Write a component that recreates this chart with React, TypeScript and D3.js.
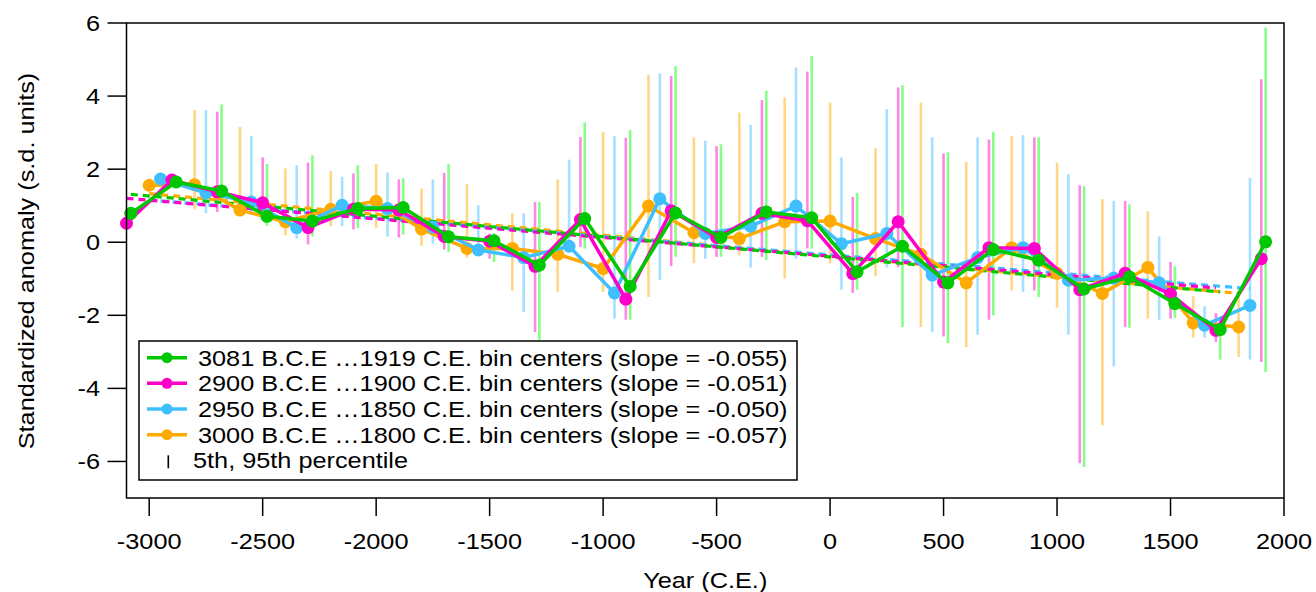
import React from "react";
import * as d3 from "d3";

// ---------- data ----------
const greenYears = [-3081, -2881, -2681, -2481, -2281, -2081, -1881, -1681, -1481, -1281, -1081, -881, -681, -481, -281, -81, 119, 319, 519, 719, 919, 1119, 1319, 1519, 1719, 1919];
const greenVals = [0.79, 1.65, 1.40, 0.71, 0.58, 0.92, 0.95, 0.15, 0.04, -0.63, 0.65, -1.21, 0.80, 0.13, 0.83, 0.67, -0.81, -0.11, -1.11, -0.20, -0.49, -1.28, -0.95, -1.68, -2.39, 0.01];
const greenLo = [null, null, 1.2, 0.45, 0.16, 0.38, 0.21, -0.27, -0.54, -2.67, -0.17, -2.12, -0.40, -0.40, -0.49, -0.17, -1.30, -2.32, -2.76, -2.00, -1.50, -6.15, -2.34, -2.07, -3.21, -3.55];
const greenHi = [null, null, 3.77, 2.14, 2.38, 2.11, 1.75, 2.14, 0.25, 1.10, 3.28, 3.07, 4.82, 2.68, 4.15, 5.10, 1.35, 4.30, 2.46, 3.02, 2.87, 1.53, 1.04, -0.66, -2.2, 5.88];

const pinkYears = [-3100, -2900, -2700, -2500, -2300, -2100, -1900, -1700, -1500, -1300, -1100, -900, -700, -500, -300, -100, 100, 300, 500, 700, 900, 1100, 1300, 1500, 1700, 1900];
const pinkVals = [0.52, 1.70, 1.38, 1.08, 0.40, 0.90, 0.88, 0.16, 0.03, -0.66, 0.62, -1.56, 0.86, 0.13, 0.79, 0.59, -0.86, 0.56, -1.09, -0.15, -0.17, -1.30, -0.85, -1.42, -2.41, -0.45];
const pinkLo = [null, null, 0.83, 0.9, -0.06, 0.35, 0.13, -0.20, -0.45, -2.46, -0.13, -2.12, -0.65, -0.40, -0.40, -0.17, -1.39, -0.68, -2.58, -2.12, -1.32, -6.05, -2.32, -2.09, -2.73, -3.28];
const pinkHi = [null, null, 3.57, 2.32, 2.18, 1.88, 1.72, 1.90, 0.24, 1.10, 2.88, 2.86, 4.55, 2.63, 3.89, 4.67, 1.24, 4.24, 2.43, 2.81, 2.87, 1.56, 1.13, -0.54, -1.94, 4.46];

const blueYears = [-2950, -2750, -2550, -2350, -2150, -1950, -1750, -1550, -1350, -1150, -950, -750, -550, -350, -150, 50, 250, 450, 650, 850, 1050, 1250, 1450, 1650, 1850];
const blueVals = [1.73, 1.35, 1.10, 0.40, 1.01, 0.92, 0.41, -0.21, -0.42, -0.11, -1.39, 1.19, 0.24, 0.44, 0.99, -0.04, 0.24, -0.90, -0.42, -0.15, -1.04, -0.98, -1.11, -2.27, -1.73];
const blueLo = [null, 0.79, 0.75, 0.10, 0.44, 0.15, -0.04, -0.36, -1.91, -0.25, -2.09, -1.04, -0.45, -0.69, -0.45, -1.30, -0.69, -2.46, -2.53, -1.36, -2.53, -3.40, -2.12, -2.61, -3.21];
const blueHi = [null, 3.62, 2.90, 2.11, 1.79, 1.91, 1.72, 1.01, 0.79, 2.26, 2.90, 4.62, 2.78, 3.21, 4.78, 2.32, 3.64, 2.87, 2.87, 2.93, 1.86, 1.13, 0.16, -1.75, 1.76];

const orangeYears = [-3000, -2800, -2600, -2400, -2200, -2000, -1800, -1600, -1400, -1200, -1000, -800, -600, -400, -200, 0, 200, 400, 600, 800, 1000, 1200, 1400, 1600, 1800];
const orangeVals = [1.56, 1.57, 0.88, 0.56, 0.90, 1.12, 0.36, -0.17, -0.17, -0.33, -0.72, 0.99, 0.26, 0.10, 0.56, 0.58, 0.10, -0.33, -1.11, -0.15, -0.85, -1.40, -0.69, -2.21, -2.32];
const orangeLo = [null, 0.90, 0.75, 0.19, 0.44, 0.40, -0.10, -0.42, -1.32, -1.36, -1.36, -1.50, -0.57, -0.36, -0.99, -0.58, -0.93, -2.32, -2.87, -1.32, -1.79, -5.01, -2.09, -2.61, -3.14];
const orangeHi = [null, 3.62, 3.16, 2.02, 1.95, 2.14, 1.47, 1.59, 0.79, 1.72, 3.02, 4.58, 2.87, 3.55, 3.96, 3.82, 2.57, 3.82, 2.20, 2.90, 2.18, 1.18, 0.85, -1.48, -1.45];

// trend lines [startYear, startValue, endYear, endValue]
const greenTrend = [-3081, 1.31, 1719, -1.36];
const pinkTrend = [-3100, 1.20, 1700, -1.25];
const blueTrend = [-2950, 1.13, 1850, -1.27];
const orangeTrend = [-3000, 1.33, 1800, -1.40];

const legendLabels = [
  "3081 B.C.E …1919 C.E. bin centers (slope = -0.055)",
  "2900 B.C.E …1900 C.E. bin centers (slope = -0.051)",
  "2950 B.C.E …1850 C.E. bin centers (slope = -0.050)",
  "3000 B.C.E …1800 C.E. bin centers (slope = -0.057)",
];
const percentileLabel = "5th, 95th percentile";
const xTicks = [-3000, -2500, -2000, -1500, -1000, -500, 0, 500, 1000, 1500, 2000];
const yTicks = [-6, -4, -2, 0, 2, 4, 6];
const xTitle = "Year (C.E.)";
const yTitle = "Standardized anomaly (s.d. units)";

// ---------- styling ----------
const COLORS = { green: "#00c800", pink: "#ff00cc", blue: "#40bfff", orange: "#ffaa00" };
const BAR_COLORS = { green: "#00ff00", pink: "#ff00cc", blue: "#40bfff", orange: "#ffaa00" };
const FONT = "'Liberation Sans', Arial, Helvetica, sans-serif";
const SX = 1.15;

const series = [
  { key: "orange", years: orangeYears, vals: orangeVals, lo: orangeLo, hi: orangeHi, trend: orangeTrend },
  { key: "blue", years: blueYears, vals: blueVals, lo: blueLo, hi: blueHi, trend: blueTrend },
  { key: "pink", years: pinkYears, vals: pinkVals, lo: pinkLo, hi: pinkHi, trend: pinkTrend },
  { key: "green", years: greenYears, vals: greenVals, lo: greenLo, hi: greenHi, trend: greenTrend },
];
const legendOrder = ["green", "pink", "blue", "orange"];

function T({ x, y, anchor = "start", rotate = 0, size = 22, children }: any) {
  return (
    <text
      transform={`translate(${x},${y}) rotate(${rotate}) scale(${SX},1)`}
      textAnchor={anchor}
      fontSize={size}
      fontFamily={FONT}
      fill="#000"
    >
      {children}
    </text>
  );
}

export default function App() {
  const W = 1316, H = 592;
  const x = d3.scaleLinear().domain([-3100, 2000]).range([126.5, 1284]);
  const y = d3.scaleLinear().domain([-7, 6]).range([498, 23]);
  const line = d3.line<[number, number]>().x((d) => x(d[0])).y((d) => y(d[1]));

  const left = x(-3100), right = x(2000), top = y(6), bottom = y(-7);

  const lgX = 139, lgY = 341, lgW = 658, lgH = 139;
  const rowY = (i: number) => 357.7 + i * 25.65;

  return (
    <svg width={W} height={H} style={{ position: "absolute", left: 0, top: 0, background: "#fff" }}>
      <rect x={0} y={0} width={W} height={H} fill="#fff" />
      {/* error bars */}
      <g>
        {series.map((s) =>
          s.years.map((yr, i) =>
            s.lo[i] == null ? null : (
              <line
                key={s.key + "e" + i}
                x1={x(yr)}
                x2={x(yr)}
                y1={y(s.lo[i] as number)}
                y2={y(s.hi[i] as number)}
                stroke={(BAR_COLORS as any)[s.key]}
                strokeOpacity={0.48}
                strokeWidth={2.6}
              />
            )
          )
        )}
      </g>
      {/* trend lines */}
      <g>
        {series.map((s) => (
          <path
            key={s.key + "t"}
            d={line([[s.trend[0], s.trend[1]], [s.trend[2], s.trend[3]]]) || ""}
            stroke={(COLORS as any)[s.key]}
            strokeWidth={3.2}
            strokeDasharray="7 5"
            fill="none"
          />
        ))}
      </g>
      {/* series */}
      {series.map((s) => (
        <g key={s.key}>
          <path
            d={line(s.years.map((yr, i) => [yr, s.vals[i]] as [number, number])) || ""}
            stroke={(COLORS as any)[s.key]}
            strokeWidth={3.5}
            fill="none"
            strokeLinejoin="round"
          />
          {s.years.map((yr, i) => (
            <circle key={i} cx={x(yr)} cy={y(s.vals[i])} r={6.5} fill={(COLORS as any)[s.key]} />
          ))}
        </g>
      ))}
      {/* frame */}
      <rect x={left} y={top} width={right - left} height={bottom - top} fill="none" stroke="#000" strokeWidth={1.5} />
      {/* y axis */}
      {yTicks.map((t) => (
        <g key={"y" + t}>
          <line x1={left - 19} x2={left} y1={y(t)} y2={y(t)} stroke="#000" strokeWidth={1.5} />
          <T x={100} y={y(t) + 8} anchor="end">{String(t)}</T>
        </g>
      ))}
      {/* x axis */}
      {xTicks.map((t) => (
        <g key={"x" + t}>
          <line x1={x(t)} x2={x(t)} y1={bottom} y2={bottom + 18} stroke="#000" strokeWidth={1.5} />
          <T x={x(t)} y={548.5} anchor="middle">{String(t)}</T>
        </g>
      ))}
      <T x={(left + right) / 2} y={588} anchor="middle">{xTitle}</T>
      <T x={33.5} y={261} anchor="middle" rotate={-90}>{yTitle}</T>
      {/* legend */}
      <rect x={lgX} y={lgY} width={lgW} height={lgH} fill="#fff" stroke="#000" strokeWidth={1.5} />
      {legendOrder.map((k, i) => (
        <g key={"lg" + k}>
          <line x1={147} x2={187} y1={rowY(i)} y2={rowY(i)} stroke={(COLORS as any)[k]} strokeWidth={3.5} />
          <circle cx={167} cy={rowY(i)} r={5.5} fill={(COLORS as any)[k]} />
          <T x={198} y={rowY(i) + 8}>{legendLabels[i]}</T>
        </g>
      ))}
      <line x1={168.3} x2={168.3} y1={rowY(4) - 5} y2={rowY(4) + 8} stroke="#000" strokeWidth={1.6} />
      <T x={193} y={rowY(4) + 8}>{percentileLabel}</T>
    </svg>
  );
}
